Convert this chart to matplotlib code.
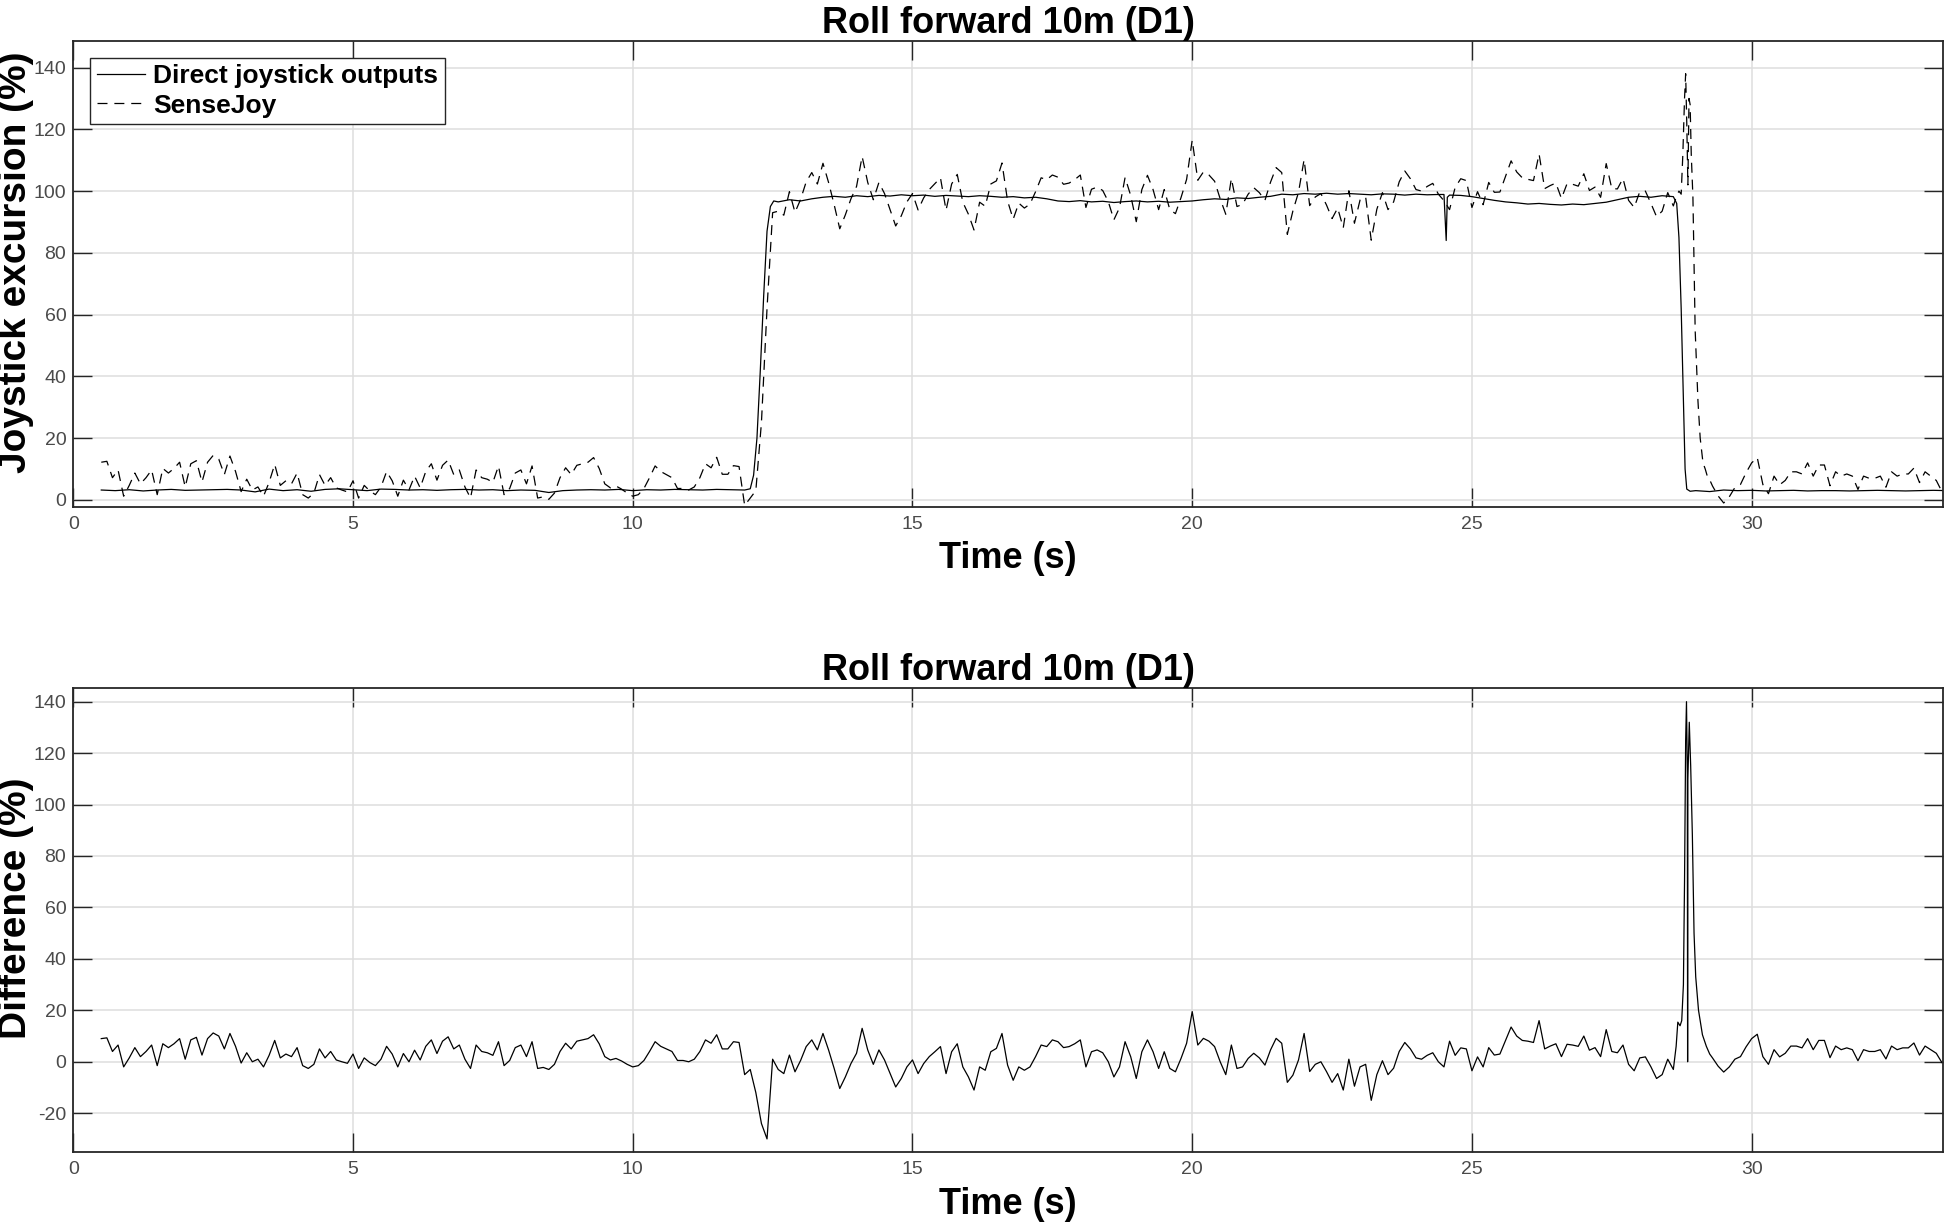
import numpy as np
import matplotlib
matplotlib.use("Agg")
import matplotlib.pyplot as plt

plt.rcParams['font.family'] = ['Liberation Sans', 'DejaVu Sans']

# ---------------- data ----------------
TITLE = "Roll forward 10m (D1)"
X_TICKS = [0, 5, 10, 15, 20, 25, 30]
X_TICK_LABELS = ["0", "5", "10", "15", "20", "25", "30"]
Y1_TICKS = [0, 20, 40, 60, 80, 100, 120, 140]
Y1_TICK_LABELS = ["0", "20", "40", "60", "80", "100", "120", "140"]
Y2_TICKS = [-20, 0, 20, 40, 60, 80, 100, 120, 140]
Y2_TICK_LABELS = ["-20", "0", "20", "40", "60", "80", "100", "120", "140"]

# Direct joystick outputs (%)
direct_pre_start, direct_pre_step = 0.5, 0.25
direct_pre = [3.2, 3.0, 3.3, 2.9, 3.2, 3.4, 3.1, 3.2, 3.3, 3.4,
              3.2, 2.6, 3.5, 3.0, 3.3, 2.8, 3.4, 3.6, 3.3, 3.0,
              3.5, 3.4, 3.2, 3.3, 3.1, 3.3, 3.4, 3.2, 3.3, 3.0,
              3.2, 3.1, 2.4, 3.0, 3.2, 3.3, 3.2, 3.4, 3.0, 3.3,
              3.2, 3.4, 3.3, 3.2, 3.4, 3.3, 3.2]
direct_rise_t = [12.1, 12.16, 12.22, 12.28, 12.34, 12.40, 12.46, 12.52]
direct_rise = [3.6, 8.0, 20.0, 42.0, 66.0, 87.0, 95.0, 96.8]
direct_mid1_start, direct_mid_step = 12.6, 0.2
direct_mid1 = [96.5, 97.2, 96.8, 97.5, 98.0, 98.3, 98.0, 98.5, 98.2, 98.6,
               98.4, 98.8, 98.5, 98.7, 98.3, 98.6, 98.4, 98.2, 98.5, 98.3,
               98.0, 98.2, 97.8, 98.0, 97.5, 96.8, 96.6, 96.9, 96.5, 96.7,
               96.3, 96.6, 96.8, 96.5, 96.7, 96.4, 96.6, 96.8, 97.2, 97.5,
               97.3, 97.8, 97.6, 98.0, 98.3, 99.0, 98.8, 99.2, 99.0, 99.3,
               99.0, 99.2, 99.0, 98.8, 99.1, 99.0, 98.7, 99.0, 98.8, 98.9]
direct_dip_t = [24.5, 24.54, 24.56, 24.6]
direct_dip = [98.9, 84.0, 98.0, 98.7]
direct_mid2_start = 24.8
direct_mid2 = [98.6, 98.2, 97.6, 97.0, 96.5, 96.2, 95.8, 96.0, 95.7,
               95.5, 95.8, 95.6, 96.0, 96.4, 97.2, 98.0, 98.3, 98.0, 98.5,
               98.2]
direct_fall_t = [28.66, 28.70, 28.74, 28.78, 28.81, 28.84, 28.90]
direct_fall = [96.0, 85.0, 62.0, 32.0, 10.0, 3.5, 2.8]
direct_post_start, direct_post_step = 29.0, 0.25
direct_post = [3.0, 2.7, 3.2, 3.0, 3.1, 2.9, 3.0, 3.1, 2.9, 3.0,
               3.0, 2.9, 3.0, 3.1, 3.0, 2.9, 3.0, 3.1, 3.0]

# SenseJoy (%) sampled every 0.1 s
sense_main_start, sense_step = 0.5, 0.1
sense_main = [12.2, 12.5, 7.2, 9.7, 1.2, 4.7, 8.7, 5.2, 7.2, 9.7,
              1.7, 10.2, 8.7, 10.2, 12.2, 4.2, 11.7, 12.7, 5.8, 12.2,
              14.4, 13.2, 8.2, 14.2, 9.2, 2.7, 6.7, 3.2, 4.2, 1.2,
              5.7, 11.5, 4.7, 6.2, 5.2, 8.7, 1.7, 0.6, 2.2, 8.2,
              4.7, 7.2, 3.9, 3.2, 2.6, 6.2, 0.6, 4.7, 2.9, 1.7,
              4.2, 9.2, 6.2, 1.2, 6.4, 3.2, 7.7, 3.9, 9.2, 11.7,
              6.4, 11.2, 12.9, 8.2, 9.7, 4.2, 0.6, 9.7, 7.2, 6.7,
              5.7, 11.0, 1.7, 3.7, 8.7, 9.7, 5.2, 11.0, 0.6, 1.0,
              0.2, 2.2, 7.2, 10.4, 8.2, 11.2, 11.7, 12.2, 13.7, 10.2,
              5.2, 3.9, 4.5, 3.5, 2.2, 1.2, 1.7, 3.7, 7.2, 11.0,
              9.2, 8.2, 7.2, 3.7, 3.7, 3.2, 4.2, 7.2, 11.7, 10.4,
              13.8, 8.3, 8.3, 11.1, 10.8, -1.8, 0.6, 3.0, 25.0, 62.0,
              93.0, 93.5, 92.2, 99.8, 93.1, 97.3, 103.0, 106.0, 102.3, 109.0,
              102.8, 95.6, 87.8, 92.3, 97.5, 101.5, 111.2, 102.8, 97.2, 102.8,
              99.2, 93.9, 88.7, 92.0, 96.5, 99.2, 93.9, 97.8, 100.5, 102.4,
              104.3, 93.8, 102.3, 105.4, 96.4, 92.5, 87.4, 96.4, 95.1, 102.3,
              103.3, 109.1, 96.8, 90.9, 96.1, 94.5, 95.8, 99.8, 104.3, 103.7,
              105.2, 104.5, 102.2, 102.6, 103.7, 105.2, 94.7, 100.6, 101.3, 100.2,
              96.6, 90.7, 94.6, 104.4, 98.6, 90.1, 100.5, 105.1, 100.5, 94.0,
              100.5, 94.0, 92.7, 97.9, 103.8, 116.5, 103.5, 106.2, 105.2, 103.2,
              97.5, 92.5, 104.1, 95.0, 95.7, 99.0, 101.1, 99.5, 97.0, 102.9,
              107.6, 106.0, 86.0, 93.6, 99.6, 110.2, 95.3, 98.1, 99.2, 95.5,
              91.1, 94.5, 88.1, 100.1, 89.6, 97.1, 98.1, 84.1, 94.1, 99.5,
              94.0, 96.5, 103.0, 106.5, 104.0, 100.5, 100.0, 101.5, 102.5, 99.0,
              96.9, 94.0, 101.2, 104.0, 103.4, 94.7, 99.8, 95.6, 102.8, 99.6,
              99.7, 104.8, 109.8, 106.2, 104.3, 103.8, 103.4, 112.0, 100.8, 101.8,
              102.6, 97.6, 102.4, 102.2, 101.6, 105.6, 100.2, 101.3, 98.0, 108.9,
              100.8, 100.7, 104.1, 97.0, 94.7, 99.8, 100.0, 96.0, 91.7, 93.5,
              99.5, 95.2]
sense_spike_t = [28.65, 28.70, 28.74, 28.77, 28.80, 28.82, 28.84, 28.86, 28.88, 28.90,
                 28.92, 28.95, 28.99, 29.04, 29.08, 29.13, 29.17, 29.21, 29.25]
sense_spike = [98.0, 100.0, 99.0, 112.0, 130.0, 138.0, 122.0, 102.0, 130.0, 128.0,
               112.0, 98.0, 55.0, 32.0, 20.0, 12.0, 10.0, 7.5, 6.5]
sense_post_start = 29.3
sense_post = [4.5, 1.3, -1.0, 1.0, 4.0, 5.0, 8.8, 12.0, 13.7, 5.0,
              2.0, 7.7, 4.9, 6.3, 9.1, 9.1, 8.4, 12.0, 7.7, 11.3,
              11.3, 4.6, 9.1, 7.7, 8.4, 7.7, 3.4, 7.7, 7.0, 7.0,
              7.7, 4.1, 9.1, 7.7, 8.4, 8.4, 10.3, 5.6, 9.1, 7.7,
              6.3, 2.7]

# Difference (%) sampled every 0.1 s
diff_main_start, diff_step = 0.5, 0.1
diff_main = [9.0, 9.3, 4.0, 6.5, -2.0, 1.5, 5.5, 2.0, 4.0, 6.5,
             -1.5, 7.0, 5.5, 7.0, 9.0, 1.0, 8.5, 9.5, 2.6, 9.0,
             11.2, 10.0, 5.0, 11.0, 6.0, -0.5, 3.5, 0.0, 1.0, -2.0,
             2.5, 8.3, 1.5, 3.0, 2.0, 5.5, -1.5, -2.6, -1.0, 5.0,
             1.5, 4.0, 0.7, 0.0, -0.6, 3.0, -2.6, 1.5, -0.3, -1.5,
             1.0, 6.0, 3.0, -2.0, 3.2, 0.0, 4.5, 0.7, 6.0, 8.5,
             3.2, 8.0, 9.7, 5.0, 6.5, 1.0, -2.6, 6.5, 4.0, 3.5,
             2.5, 7.8, -1.5, 0.5, 5.5, 6.5, 2.0, 7.8, -2.6, -2.2,
             -3.0, -1.0, 4.0, 7.2, 5.0, 8.0, 8.5, 9.0, 10.5, 7.0,
             2.0, 0.7, 1.3, 0.3, -1.0, -2.0, -1.5, 0.5, 4.0, 7.8,
             6.0, 5.0, 4.0, 0.5, 0.5, 0.0, 1.0, 4.0, 8.5, 7.2,
             10.5, 5.0, 5.0, 7.8, 7.5, -5.0, -3.0, -12.0, -24.0, -30.0,
             1.0, -3.0, -4.6, 2.6, -3.9, 0.5, 5.9, 8.5, 4.6, 11.0,
             4.6, -2.6, -10.4, -5.9, -0.7, 3.3, 13.0, 4.6, -1.0, 4.6,
             0.7, -4.6, -9.8, -6.5, -2.0, 0.7, -4.6, -0.7, 2.0, 3.9,
             5.9, -4.6, 3.9, 7.0, -2.0, -5.9, -11.0, -2.0, -3.3, 3.9,
             5.2, 11.0, -1.3, -7.2, -2.0, -3.3, -2.0, 2.0, 6.5, 5.9,
             8.5, 7.8, 5.5, 5.9, 7.0, 8.5, -2.0, 3.9, 4.6, 3.5,
             0.0, -5.9, -2.0, 7.8, 2.0, -6.5, 3.9, 8.5, 3.9, -2.6,
             3.9, -2.6, -3.9, 1.3, 7.2, 19.5, 6.5, 9.1, 8.0, 5.9,
             0.0, -5.0, 6.5, -2.6, -2.0, 1.3, 3.3, 1.5, -1.3, 4.6,
             9.1, 7.2, -8.0, -5.2, 0.7, 11.0, -3.8, -1.0, 0.0, -3.8,
             -8.0, -4.6, -11.0, 1.0, -9.5, -2.0, -1.0, -15.0, -5.0, 0.4,
             -5.0, -2.5, 4.0, 7.5, 5.0, 1.5, 1.0, 2.5, 3.5, 0.0,
             -2.0, 8.0, 2.5, 5.4, 5.0, -3.5, 1.9, -2.0, 5.5, 2.6,
             3.0, 8.3, 13.5, 10.0, 8.3, 8.0, 7.5, 16.0, 5.0, 6.1,
             7.0, 2.0, 6.8, 6.5, 6.0, 10.0, 4.5, 5.5, 2.0, 12.5,
             4.0, 3.5, 6.5, -1.0, -3.5, 1.5, 1.9, -2.0, -6.5, -5.0,
             1.0, -3.0]
diff_spike_t = [28.65, 28.68, 28.72, 28.75, 28.78, 28.80, 28.82, 28.835, 28.85, 28.855,
                28.86, 28.885, 28.91, 28.94, 28.97, 29.0, 29.05, 29.12, 29.19, 29.25]
diff_spike = [6.0, 15.4, 14.0, 16.0, 30.0, 70.0, 125.0, 140.0, 112.0, 0.0,
              110.0, 132.0, 115.0, 88.0, 50.0, 33.0, 20.0, 10.5, 6.0, 3.0]
diff_post_start = 29.3
diff_post = [1.5, -1.7, -4.0, -2.0, 1.0, 2.0, 5.8, 9.0, 10.7, 2.0,
             -1.0, 4.7, 1.9, 3.3, 6.1, 6.1, 5.4, 9.0, 4.7, 8.3,
             8.3, 1.6, 6.1, 4.7, 5.4, 4.7, 0.4, 4.7, 4.0, 4.0,
             4.7, 1.1, 6.1, 4.7, 5.4, 5.4, 7.3, 2.6, 6.1, 4.7,
             3.3, -0.3]


def sample_times(start, step, values):
    return start + step * np.arange(len(values))


direct_t = np.concatenate([sample_times(direct_pre_start, direct_pre_step, direct_pre),
                           direct_rise_t,
                           sample_times(direct_mid1_start, direct_mid_step, direct_mid1),
                           direct_dip_t,
                           sample_times(direct_mid2_start, direct_mid_step, direct_mid2),
                           direct_fall_t,
                           sample_times(direct_post_start, direct_post_step, direct_post)])
direct_v = np.concatenate([direct_pre, direct_rise, direct_mid1, direct_dip, direct_mid2,
                           direct_fall, direct_post])

sense_t = np.concatenate([sample_times(sense_main_start, sense_step, sense_main),
                          sense_spike_t,
                          sample_times(sense_post_start, sense_step, sense_post)])
sense_v = np.concatenate([sense_main, sense_spike, sense_post])

diff_t = np.concatenate([sample_times(diff_main_start, diff_step, diff_main),
                         diff_spike_t,
                         sample_times(diff_post_start, diff_step, diff_post)])
diff_v = np.concatenate([diff_main, diff_spike, diff_post])

# ---------------- figure ----------------
W, H = 1944, 1225
fig = plt.figure(figsize=(W / 100, H / 100), dpi=100)


def px_axes(left, top, right, bottom):
    return fig.add_axes([left / W, 1 - bottom / H, (right - left) / W, (bottom - top) / H])


ax1 = px_axes(73.3, 41, 1943, 506.7)
ax2 = px_axes(73.3, 688.3, 1943, 1152.3)

SPINE = '#262626'


def style(ax, ylim, yticks, yticklabels):
    ax.set_xlim(0, 33.42)
    ax.set_ylim(*ylim)
    ax.set_xticks(X_TICKS)
    ax.set_xticklabels(X_TICK_LABELS)
    ax.set_yticks(yticks)
    ax.set_yticklabels(yticklabels)
    ax.grid(True, color='#dedede', lw=1.1)
    ax.set_axisbelow(True)
    for s in ax.spines.values():
        s.set_color(SPINE)
        s.set_linewidth(1.3)
    ax.tick_params(direction='in', length=13.5, width=1.0, color=SPINE,
                   top=True, right=True, labelsize=14, labelcolor='#4a4a4a')
    ax.tick_params(axis='x', pad=6.5)
    ax.tick_params(axis='y', pad=5)
    ax.set_title(TITLE, fontsize=26, fontweight='bold', pad=6)
    ax.set_xlabel('Time (s)', fontsize=26, fontweight='bold', labelpad=6)


style(ax1, (-2.2, 148.6), Y1_TICKS, Y1_TICK_LABELS)
style(ax2, (-35.2, 145.2), Y2_TICKS, Y2_TICK_LABELS)

l1, = ax1.plot(direct_t, direct_v, color='k', lw=0.9, label='Direct joystick outputs')
l2, = ax1.plot(sense_t, sense_v, color='k', lw=0.9, dashes=(8, 5.5), label='SenseJoy')
ax2.plot(diff_t, diff_v, color='k', lw=0.9)

ax1.set_ylabel('Joystick excursion (%)', fontsize=28, fontweight='bold')
ax1.yaxis.set_label_coords(-0.021, 0.525)
ax2.set_ylabel('Difference (%)', fontsize=28, fontweight='bold')
ax2.yaxis.set_label_coords(-0.021, 0.525)

leg = ax1.legend(handles=[l1, l2], loc='upper left', bbox_to_anchor=(0.0089, 0.964),
                 borderaxespad=0, prop={'weight': 'bold', 'size': 19},
                 frameon=True, fancybox=False, edgecolor=SPINE, framealpha=1,
                 handlelength=1.85, handletextpad=0.3, labelspacing=0.2, borderpad=0.25)
leg.get_frame().set_linewidth(1.0)

fig.savefig('out.png', dpi=100)
